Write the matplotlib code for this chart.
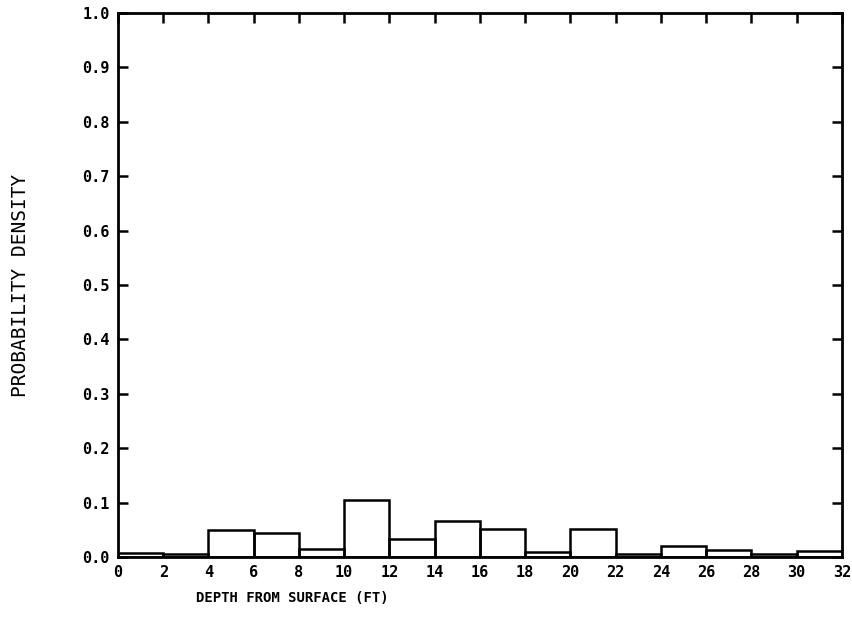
import numpy as np
import matplotlib
matplotlib.use("Agg")
import matplotlib.pyplot as plt

# histogram bins (depth, ft) and densities
bin_left = [0, 2, 4, 6, 8, 10, 12, 14, 16, 18, 20, 22, 24, 26, 28, 30]
density = [0.007, 0.005, 0.050, 0.044, 0.015, 0.105, 0.034, 0.067,
           0.052, 0.009, 0.051, 0.006, 0.021, 0.012, 0.005, 0.011]
x_ticks = list(range(0, 33, 2))
y_ticks = [round(v * 0.1, 1) for v in range(11)]

plt.rcParams['font.family'] = ['DejaVu Sans Mono']

fig = plt.figure(figsize=(8.52, 6.35), dpi=100)
ax = fig.add_axes([0.1385, 0.1228, 0.8495, 0.8567])

ax.bar(bin_left, density, width=2, align="edge", fill=False,
       edgecolor="black", linewidth=1.8)

ax.set_xlim(0, 32)
ax.set_ylim(0, 1.0)
ax.set_xticks(x_ticks)
ax.set_xticklabels([str(t) for t in x_ticks], fontweight="bold", fontsize=11)
ax.set_yticks(y_ticks)
ax.set_yticklabels([f"{t:.1f}" for t in y_ticks], fontweight="bold", fontsize=11)

ax.tick_params(axis="both", direction="in", length=7, width=1.8,
               top=True, right=True, bottom=False, pad=6)
for s in ax.spines.values():
    s.set_linewidth(2)

fig.text(0.024, 0.551, "PROBABILITY DENSITY", rotation=90, ha="center",
         va="center", fontsize=14)
fig.text(0.343, 0.058, "DEPTH FROM SURFACE (FT)", ha="center",
         va="center", fontsize=10, fontweight="bold")

fig.savefig("out.png", dpi=100)
